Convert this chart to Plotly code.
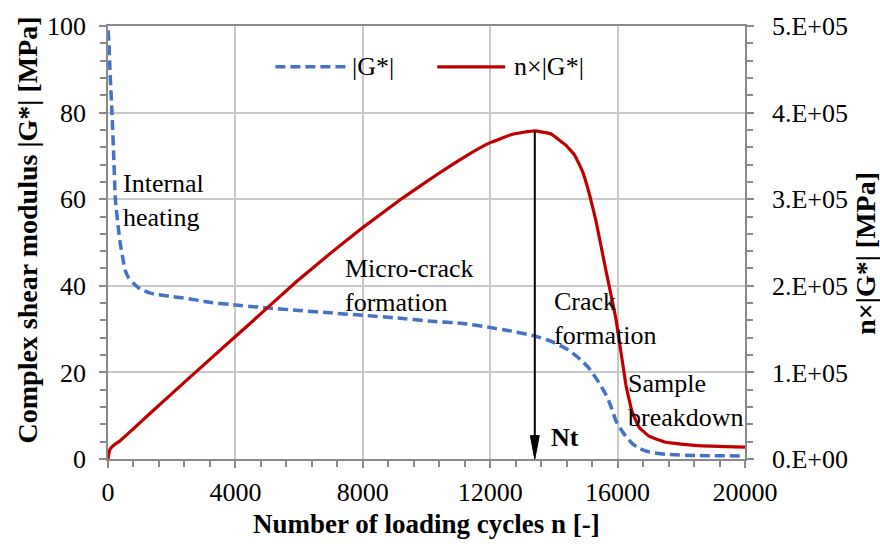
import plotly.graph_objects as go

# ---------------- data ----------------
cycles_g = [0, 30, 60, 125, 180, 230, 330, 385, 450, 540, 650, 800, 1000, 1325,
            2000, 2370, 3200, 3830, 4980, 6000, 7060, 8000, 9000, 10190, 11140,
            11970, 12600, 13400, 13900, 14380, 14750, 15110, 15400, 15630, 15800,
            15950, 16200, 16470, 16700, 17000, 17500, 18500, 20000]
g_values = [99, 96, 90, 80, 70, 60, 53, 49.7, 47, 43.6, 41.8, 40.6, 39.3, 38.3,
            37.5, 37.2, 36.2, 35.7, 34.9, 34.3, 33.7, 33.2, 32.6, 31.8, 31.3,
            30.4, 29.6, 28.4, 27.2, 25.5, 23.5, 20.9, 17.8, 14.9, 12.0,
            8.8, 5.8, 3.5, 2.4, 1.6, 1.1, 0.8, 0.7]

cycles_ng = [0, 20, 72, 200, 385, 800, 1325, 2420, 4000, 4460, 5920, 7000, 8010,
             9260, 10310, 11200, 11980, 12700, 13390, 13900, 14380, 14650, 14900,
             15120, 15320, 15630, 15950, 16260, 16450, 16680, 17000, 17510, 18500,
             20000]
ng_values = [0, 5000, 11800, 16500, 21200, 35000, 52800, 89400, 141500, 156500,
             205000, 238000, 267500, 301600, 328000, 349000, 365000, 375000,
             379000, 375500, 362200, 351000, 331800, 305000, 275000, 218200,
             161400, 85700, 55000, 36400, 26000, 19300, 15500, 13600]

x_ticks = [0, 4000, 8000, 12000, 16000, 20000]
x_ticktext = ["0", "4000", "8000", "12000", "16000", "20000"]
y_ticks = [0, 20, 40, 60, 80, 100]
y2_ticks = [0, 100000, 200000, 300000, 400000, 500000]
y2_ticktext = ["0.E+00", "1.E+05", "2.E+05", "3.E+05", "4.E+05", "5.E+05"]

nt_cycle = 13400
nt_peak = 75.7

phase_labels = ["Internal<br>heating", "Micro-crack<br>formation",
                "Crack<br>formation", "Sample<br>breakdown"]
phase_x = [420, 7370, 13950, 16270]
phase_y = [59.6, 40.0, 32.4, 13.6]

# ---------------- styling ----------------
FONT = "Liberation Serif, Times New Roman, serif"
BLUE = "#4472C4"
RED = "#C00000"
GRID = "#C8C8C8"
AXIS = "#898989"
HEAD_LEN = 5.4      # arrowhead length in left-axis units (~24 px)
HEAD_HALF = 140     # arrowhead half width in cycles (~4.5 px)

fig = go.Figure()
fig.add_trace(go.Scatter(x=cycles_g, y=g_values, mode="lines", name="|G*|",
                         line=dict(color=BLUE, width=3.5, dash="10px,5px", shape="spline", smoothing=0.5),
                         showlegend=False, hoverinfo="skip"))
fig.add_trace(go.Scatter(x=cycles_ng, y=ng_values, mode="lines", name="n×|G*|",
                         yaxis="y2", line=dict(color=RED, width=3.2, shape="spline", smoothing=0.3),
                         showlegend=False, hoverinfo="skip"))
# Nt arrowhead (narrow filled triangle pointing to the axis)
fig.add_trace(go.Scatter(x=[nt_cycle - HEAD_HALF, nt_cycle, nt_cycle + HEAD_HALF, nt_cycle - HEAD_HALF],
                         y=[HEAD_LEN, 0, HEAD_LEN, HEAD_LEN], mode="lines", fill="toself",
                         fillcolor="black", line=dict(color="black", width=1),
                         showlegend=False, hoverinfo="skip"))

axis_common = dict(showline=True, linecolor=AXIS, linewidth=1.5, ticks="outside",
                   ticklen=7, tickwidth=1.5, tickcolor=AXIS, zeroline=False,
                   tickfont=dict(family=FONT, size=26, color="black"))

fig.update_layout(
    width=880, height=544,
    margin=dict(l=108, r=135, t=18, b=85),
    paper_bgcolor="white", plot_bgcolor="white",
    font=dict(family=FONT, size=26, color="black"),
    xaxis=dict(range=[0, 20000], tickvals=x_ticks, ticktext=x_ticktext, showgrid=True,
               gridcolor=GRID, gridwidth=1.5, mirror=True,
               minor=dict(dtick=800, ticks="outside", ticklen=6, tickwidth=1.5, tickcolor=AXIS, showgrid=False),
               ticklabelstandoff=2, **axis_common),
    yaxis=dict(range=[0, 100], tickvals=y_ticks, showgrid=True, gridcolor=GRID, gridwidth=1.5,
               minor=dict(dtick=4, ticks="outside", ticklen=6, tickwidth=1.5, tickcolor=AXIS, showgrid=False),
               ticklabelstandoff=8, **axis_common),
    yaxis2=dict(range=[0, 500000], tickvals=y2_ticks, ticktext=y2_ticktext, overlaying="y",
                side="right", showgrid=False,
                minor=dict(dtick=20000, ticks="outside", ticklen=6, tickwidth=1.5, tickcolor=AXIS, showgrid=False),
                ticklabelstandoff=13, **axis_common),
)

annotations = []
annotations.append(dict(x=nt_cycle + 460, y=4.9, xref="x", yref="y", text="<b>Nt</b>",
                        showarrow=False, xanchor="left", yanchor="middle",
                        font=dict(family=FONT, size=26, color="black")))
for t, xv, yv in zip(phase_labels, phase_x, phase_y):
    annotations.append(dict(x=xv, y=yv, xref="x", yref="y", text=t, showarrow=False,
                            xanchor="left", yanchor="middle", align="left",
                            font=dict(family=FONT, size=26, color="black")))
# axis titles
annotations.append(dict(x=0.5, y=-0.1506, xref="paper", yref="paper",
                        text="<b>Number of loading cycles n [-]</b>", showarrow=False,
                        xanchor="center", yanchor="middle", font=dict(family=FONT, size=27)))
annotations.append(dict(x=-0.1266, y=0.5286, xref="paper", yref="paper", textangle=-90,
                        text="<b>Complex shear modulus |G*| [MPa]</b>", showarrow=False,
                        xanchor="center", yanchor="middle", font=dict(family=FONT, size=28)))
annotations.append(dict(x=1.19, y=0.474, xref="paper", yref="paper", textangle=-90,
                        text="<b>n×|G*| [MPa]</b>", showarrow=False,
                        xanchor="center", yanchor="middle", font=dict(family=FONT, size=28)))
# custom legend
annotations.append(dict(x=0.380, y=0.9057, xref="paper", yref="paper", text="|G*|",
                        showarrow=False, xanchor="left", yanchor="middle", font=dict(family=FONT, size=26)))
annotations.append(dict(x=0.6344, y=0.9057, xref="paper", yref="paper", text="n×|G*|",
                        showarrow=False, xanchor="left", yanchor="middle", font=dict(family=FONT, size=26)))
fig.update_layout(annotations=annotations)

fig.update_layout(shapes=[
    # Nt arrow shaft
    dict(type="line", xref="x", yref="y", x0=nt_cycle, x1=nt_cycle, y0=HEAD_LEN * 0.5, y1=nt_peak,
         line=dict(color="black", width=2)),
    # legend samples
    dict(type="line", xref="paper", yref="paper", x0=0.2628, x1=0.3727, y0=0.9057, y1=0.9057,
         line=dict(color=BLUE, width=3.5, dash="10px,5px")),
    dict(type="line", xref="paper", yref="paper", x0=0.5168, x1=0.6235, y0=0.9057, y1=0.9057,
         line=dict(color=RED, width=3.2)),
])

fig.write_html("out.html")
